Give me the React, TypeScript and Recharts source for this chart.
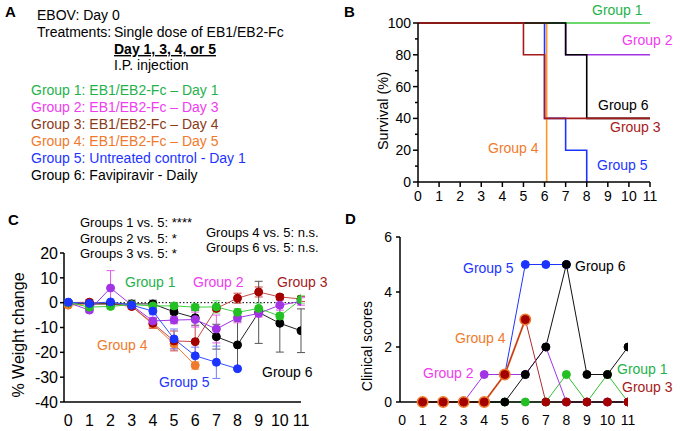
import React from 'react';
import { LineChart, Line, XAxis, YAxis, ErrorBar, ReferenceLine } from 'recharts';

const FONT = '"Liberation Sans", Arial, Helvetica, sans-serif';

// ---- B: survival (%) step curves ----
const survDaysG1 = [0, 11];
const survPctG1 = [100, 100];
const survDaysG2 = [0, 7, 11];
const survPctG2 = [100, 80, 80];
const survDaysG3 = [0, 5, 6, 11];
const survPctG3 = [100, 80, 40, 40];
const survDaysG4 = [0, 6.1];
const survPctG4 = [100, 0];
const survDaysG5 = [0, 6, 7, 8];
const survPctG5 = [100, 40, 20, 0];
const survDaysG6 = [0, 7, 8, 11];
const survPctG6 = [100, 80, 40, 40];
const survTicks = [0, 10, 20, 30, 40, 50, 60, 70, 80, 90, 100];

// ---- C: % weight change, mean and error ----
const days = [0, 1, 2, 3, 4, 5, 6, 7, 8, 9, 10, 11];
const weightG1 = [0, -1.8, -1.5, -0.8, -1.3, -1.3, -1.8, -1.7, -3.9, -2.3, -5.4, 1.3];
const errG1 = [0.5, 1, 1, 0.8, 1, 1, 1, 2.5, 1.5, 2, 1.5, 1.5];
const weightG2 = [0, -3, 5.9, -1, -7.4, -7, -6.8, -10.6, -6.1, -4.3, -1, 0.5];
const errG2 = [0.5, 1, 7, 1, 1.5, 1.5, 3, 5.6, 2, 1.5, 2, 1.5];
const weightG3 = [0, 0.2, -0.5, -1.5, -8.3, -15.4, -15.7, -2.3, 1.8, 4.3, 2.3, 1.5];
const errG3 = [0.5, 1, 1, 1, 2, 4, 9, 1, 2, 2, 1, 1];
const weightG4 = [-1, -0.5, -0.5, -1.5, -8.7, -16.6, -25.3, null, null, null, null, null];
const errG4 = [0.5, 0.5, 0.5, 0.5, 1.5, 2, 1.5, null, null, null, null, null];
const weightG5 = [0.2, -0.3, 0.3, -1, -3.4, -14.6, -21.4, -24, -26.6, null, null, null];
const errG5 = [0.5, 0.5, 0.5, 1, 1.5, 4, 3.5, 6.5, 0.5, null, null, null];
const weightG6 = [0, -0.5, -0.5, -0.5, -0.5, -3.7, -6.1, -13.7, -17, -3.9, -8.3, -11.3];
const errG6 = [0.5, 0.5, 0.5, 1.5, 1.5, 1, 3, 5, 9.5, 12.5, 11.6, 8.8];
const weightTicks = [-40, -30, -20, -10, 0, 10, 20];

// ---- D: clinical scores ----
const scoreDays = [1, 2, 3, 4, 5, 6, 7, 8, 9, 10, 11];
const scoreG1 = [0, 0, 0, 0, 0, 0, 0, 1, 0, 1, 0];
const scoreG2 = [0, 0, 0, 1, 1, 1, 2, 0, 0, 0, 0];
const scoreG3 = [0, 0, 0, 0, 1, 3, 0, 0, 0, 0, 0];
const scoreG4 = [0, 0, 0, 0, 1, 3, null, null, null, null, null];
const scoreG5 = [0, 0, 0, 0, 1, 5, 5, 5, null, null, null];
const scoreG6 = [0, 0, 0, 0, 0, 1, 2, 5, 1, 1, 2];
const scoreTicks = [0, 2, 4, 6];

const dayTicks = [0, 1, 2, 3, 4, 5, 6, 7, 8, 9, 10, 11];

const GREEN = '#1fb24b';
const MAGENTA = '#f03cf0';
const PURPLE = '#a234e6';
const DARKRED = '#a51a1a';
const BROWN = '#8a3a16';
const ORANGE = '#f07a2c';
const BLUE = '#1d34ff';

const steps = (xs: number[], ys: number[]) => xs.map((d, i) => ({ day: d, pct: ys[i] }));

const weightRows = days.map((d, i) => ({
  day: d,
  g1: weightG1[i], e1: errG1[i],
  g2: weightG2[i], e2: errG2[i],
  g3: weightG3[i], e3: errG3[i],
  g4: weightG4[i], e4: errG4[i],
  g5: weightG5[i], e5: errG5[i],
  g6: weightG6[i], e6: errG6[i],
}));

const scoreRows = scoreDays.map((d, i) => ({
  day: d,
  g1: scoreG1[i], g2: scoreG2[i], g3: scoreG3[i],
  g4: scoreG4[i], g5: scoreG5[i], g6: scoreG6[i],
}));

const axisStyle = { stroke: '#000', strokeWidth: 1.5 };

const SurvivalTick = (props: any) => {
  const { x, y, payload } = props;
  const major = payload.value % 20 === 0;
  return (
    <g>
      <line x1={x - (major ? 5 : 3)} x2={x} y1={y} y2={y} stroke="#000" strokeWidth={1.5} />
      {major && (
        <text x={x - 7} y={y} dy="0.35em" textAnchor="end" fontSize={14} fontFamily={FONT} fill="#000">
          {payload.value}
        </text>
      )}
    </g>
  );
};

export default function App() {
  const t = (x: number, y: number, s: string, color = '#000', size = 14, extra: any = {}) => (
    <text x={x} y={y} fill={color} fontSize={size} fontFamily={FONT} {...extra}>{s}</text>
  );

  return (
    <div style={{ position: 'absolute', left: 0, top: 0, width: 680, height: 431, background: '#fff', overflow: 'hidden' }}>
      {/* B */}
      <div style={{ position: 'absolute', left: 340, top: 0 }}>
        <LineChart width={340} height={210} margin={{ top: 23, right: 30, bottom: 4, left: 38 }}>
          <XAxis type="number" dataKey="day" domain={[0, 11]} ticks={dayTicks} interval={0} height={24}
            axisLine={axisStyle} tickLine={axisStyle} tickSize={5} tickMargin={4}
            tick={{ fontSize: 14, fill: '#000', fontFamily: FONT }} allowDataOverflow />
          <YAxis type="number" domain={[0, 100]} ticks={survTicks} interval={0} width={40}
            axisLine={axisStyle} tickLine={false} tickSize={0} tickMargin={0} tick={<SurvivalTick />} />
          <Line data={steps(survDaysG2, survPctG2)} dataKey="pct" type="stepAfter" stroke={PURPLE} strokeWidth={1.6} dot={false} isAnimationActive={false} />
          <Line data={steps(survDaysG1, survPctG1)} dataKey="pct" type="stepAfter" stroke="#3cc83c" strokeWidth={1.6} dot={false} isAnimationActive={false} />
          <Line data={steps(survDaysG5, survPctG5)} dataKey="pct" type="stepAfter" stroke={BLUE} strokeWidth={1.6} dot={false} isAnimationActive={false} />
          <Line data={steps(survDaysG4, survPctG4)} dataKey="pct" type="stepAfter" stroke="#ff9628" strokeWidth={1.6} dot={false} isAnimationActive={false} />
          <Line data={steps(survDaysG6, survPctG6)} dataKey="pct" type="stepAfter" stroke="#000" strokeWidth={1.6} dot={false} isAnimationActive={false} />
          <Line data={steps(survDaysG3, survPctG3)} dataKey="pct" type="stepAfter" stroke={DARKRED} strokeWidth={1.6} dot={false} isAnimationActive={false} />
        </LineChart>
      </div>

      {/* C */}
      <div style={{ position: 'absolute', left: 0, top: 240 }}>
        <LineChart width={330} height={191} data={weightRows} margin={{ top: 13, right: 29, bottom: 3, left: 20 }}>
          <XAxis type="number" dataKey="day" domain={[-0.2, 11]} ticks={dayTicks} interval={0} height={26}
            axisLine={axisStyle} tickLine={false} tickSize={8} tickMargin={5}
            tick={{ fontSize: 16, fill: '#000', fontFamily: FONT }} allowDataOverflow />
          <YAxis type="number" domain={[-40, 20]} ticks={weightTicks} interval={0} width={44}
            axisLine={axisStyle} tickLine={axisStyle} tickSize={4} tickMargin={2}
            tick={{ fontSize: 16, fill: '#000', fontFamily: FONT }} allowDataOverflow />
          <ReferenceLine y={0} stroke="#000" strokeWidth={1} strokeDasharray="1.5 2" />
          <Line dataKey="g4" stroke={ORANGE} strokeWidth={1} dot={{ r: 4, fill: ORANGE, stroke: ORANGE }} activeDot={false} isAnimationActive={false}>
            <ErrorBar dataKey="e4" direction="y" width={4} stroke="#f39a5a" strokeWidth={1} isAnimationActive={false} />
          </Line>
          <Line dataKey="g3" stroke="#c44a4a" strokeWidth={1} dot={{ r: 4, fill: '#a30000', stroke: '#a30000' }} activeDot={false} isAnimationActive={false}>
            <ErrorBar dataKey="e3" direction="y" width={4} stroke="#cc4444" strokeWidth={1} isAnimationActive={false} />
          </Line>
          <Line dataKey="g6" stroke="#222" strokeWidth={1} dot={{ r: 4, fill: '#000', stroke: '#000' }} activeDot={false} isAnimationActive={false}>
            <ErrorBar dataKey="e6" direction="y" width={4} stroke="#555" strokeWidth={1} isAnimationActive={false} />
          </Line>
          <Line dataKey="g2" stroke={PURPLE} strokeWidth={1} dot={{ r: 4, fill: PURPLE, stroke: PURPLE }} activeDot={false} isAnimationActive={false}>
            <ErrorBar dataKey="e2" direction="y" width={4} stroke="#e25ce8" strokeWidth={1} isAnimationActive={false} />
          </Line>
          <Line dataKey="g1" stroke="#40d040" strokeWidth={1} dot={{ r: 4, fill: '#22c022', stroke: '#22c022' }} activeDot={false} isAnimationActive={false}>
            <ErrorBar dataKey="e1" direction="y" width={4} stroke="#7ede7e" strokeWidth={1} isAnimationActive={false} />
          </Line>
          <Line dataKey="g5" stroke="#3050ff" strokeWidth={1} dot={{ r: 4, fill: BLUE, stroke: BLUE }} activeDot={false} isAnimationActive={false}>
            <ErrorBar dataKey="e5" direction="y" width={4} stroke="#7080ff" strokeWidth={1} isAnimationActive={false} />
          </Line>
        </LineChart>
      </div>

      {/* D */}
      <div style={{ position: 'absolute', left: 340, top: 222 }}>
        <LineChart width={340} height={209} data={scoreRows} margin={{ top: 15, right: 52, bottom: 4, left: 30 }}>
          <XAxis type="number" dataKey="day" domain={[-0.1, 11]} ticks={dayTicks} interval={0} height={25}
            axisLine={axisStyle} tickLine={false} tickSize={8} tickMargin={5}
            tick={{ fontSize: 14, fill: '#000', fontFamily: FONT }} allowDataOverflow />
          <YAxis type="number" domain={[0, 6]} ticks={scoreTicks} interval={0} width={30}
            axisLine={axisStyle} tickLine={axisStyle} tickSize={4} tickMargin={4}
            tick={{ fontSize: 14, fill: '#000', fontFamily: FONT }} />
          <Line dataKey="g1" stroke="#30c030" strokeWidth={1} dot={{ r: 4, fill: '#22c022', stroke: '#22c022' }} activeDot={false} isAnimationActive={false} />
          <Line dataKey="g2" stroke={PURPLE} strokeWidth={1} dot={{ r: 4, fill: PURPLE, stroke: PURPLE }} activeDot={false} isAnimationActive={false} />
          <Line dataKey="g5" stroke={BLUE} strokeWidth={1} dot={{ r: 4, fill: BLUE, stroke: BLUE }} activeDot={false} isAnimationActive={false} />
          <Line dataKey="g6" stroke="#111" strokeWidth={1} dot={{ r: 4, fill: '#000', stroke: '#000' }} activeDot={false} isAnimationActive={false} />
          <Line dataKey="g4" stroke={ORANGE} strokeWidth={2} dot={{ r: 5, fill: ORANGE, stroke: ORANGE }} activeDot={false} isAnimationActive={false} />
          <Line dataKey="g3" stroke="#b03030" strokeWidth={1} dot={{ r: 4, fill: '#a30000', stroke: '#a30000' }} activeDot={false} isAnimationActive={false} />
        </LineChart>
      </div>

      {/* texts */}
      <svg width={680} height={431} style={{ position: 'absolute', left: 0, top: 0, pointerEvents: 'none' }}>
        {t(5, 17, 'A', '#000', 15, { fontWeight: 'bold' })}
        {t(344, 17, 'B', '#000', 15, { fontWeight: 'bold' })}
        {t(8, 225, 'C', '#000', 15, { fontWeight: 'bold' })}
        {t(345, 224, 'D', '#000', 15, { fontWeight: 'bold' })}

        {t(37, 20, 'EBOV: Day 0')}
        {t(37, 37, 'Treatments:')}
        {t(114, 37, 'Single dose of EB1/EB2-Fc')}
        {t(114, 54, 'Day 1, 3, 4, or 5', '#000', 14, { fontWeight: 'bold', textDecoration: 'underline' })}
        {t(114, 70, 'I.P. injection')}
        {t(31, 95, 'Group 1: EB1/EB2-Fc \u2013 Day 1', GREEN)}
        {t(31, 112, 'Group 2: EB1/EB2-Fc \u2013 Day 3', MAGENTA)}
        {t(31, 129, 'Group 3: EB1/EB2-Fc \u2013 Day 4', BROWN)}
        {t(31, 146, 'Group 4: EB1/EB2-Fc \u2013 Day 5', ORANGE)}
        {t(31, 163, 'Group 5: Untreated control - Day 1', BLUE)}
        {t(31, 180, 'Group 6: Favipiravir - Daily')}

        {t(592, 15, 'Group 1', GREEN)}
        {t(622, 45, 'Group 2', MAGENTA)}
        {t(598, 110, 'Group 6')}
        {t(610, 132, 'Group 3', DARKRED)}
        {t(488, 153, 'Group 4', ORANGE)}
        {t(597, 170, 'Group 5', BLUE)}
        <text x={383} y={111} transform="rotate(-90 383 111)" textAnchor="middle" dominantBaseline="central" fontSize={14.5} fontFamily={FONT} fill="#000">Survival (%)</text>

        {t(80, 227, 'Groups 1 vs. 5: ****', '#000', 13)}
        {t(80, 243, 'Groups 2 vs. 5: *', '#000', 13)}
        {t(80, 258, 'Groups 3 vs. 5: *', '#000', 13)}
        {t(206, 237, 'Groups 4 vs. 5: n.s.', '#000', 13)}
        {t(206, 252, 'Groups 6 vs. 5: n.s.', '#000', 13)}
        {t(125, 287, 'Group 1', GREEN)}
        {t(193, 287, 'Group 2', MAGENTA)}
        {t(277, 287, 'Group 3', DARKRED)}
        {t(97, 350, 'Group 4', ORANGE)}
        {t(159, 387, 'Group 5', BLUE)}
        {t(262, 377, 'Group 6')}
        <text x={18} y={335} transform="rotate(-90 18 335)" textAnchor="middle" dominantBaseline="central" fontSize={16} fontFamily={FONT} fill="#000">% Weight change</text>

        {t(463, 273, 'Group 5', BLUE)}
        {t(575, 271, 'Group 6')}
        {t(455, 343, 'Group 4', ORANGE)}
        {t(423, 378, 'Group 2', MAGENTA)}
        {t(617, 374, 'Group 1', GREEN)}
        {t(622, 392, 'Group 3', DARKRED)}
        <text x={367} y={346} transform="rotate(-90 367 346)" textAnchor="middle" dominantBaseline="central" fontSize={14} fontFamily={FONT} fill="#000">Clinical scores</text>
      </svg>
    </div>
  );
}
